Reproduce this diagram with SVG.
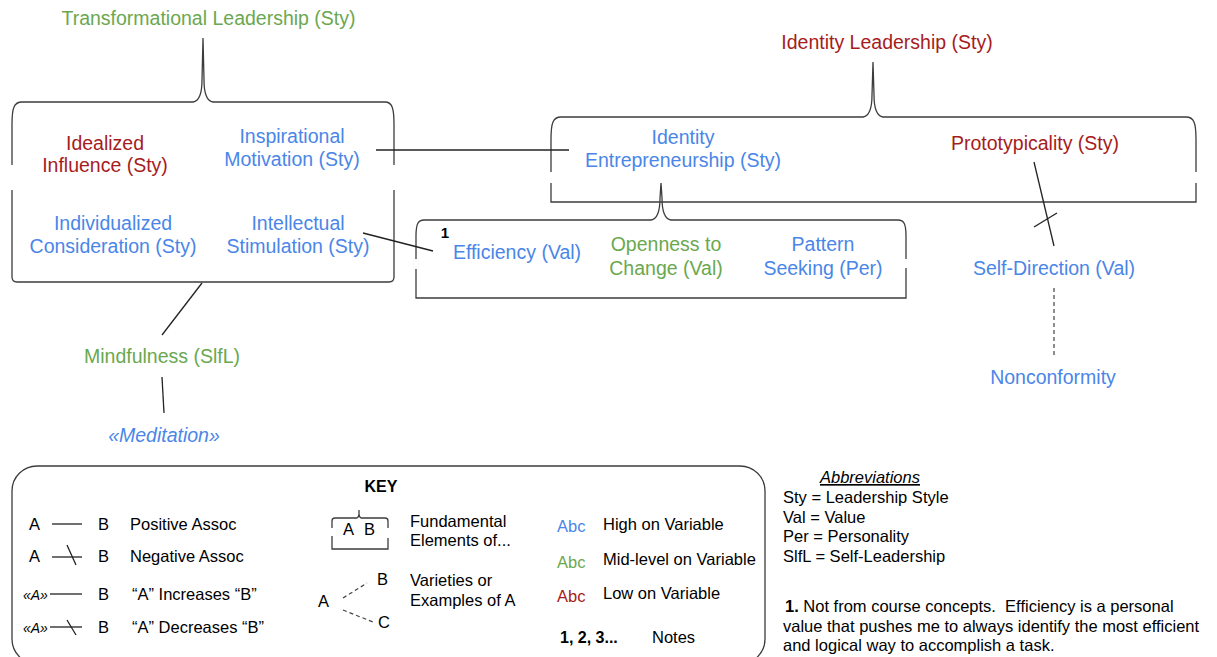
<svg xmlns="http://www.w3.org/2000/svg" width="1217" height="657" viewBox="0 0 1217 657">
<style>
text{font-family:"Liberation Sans",Arial,sans-serif}
.t{font-size:19.5px;text-anchor:middle}
.k{font-size:16.5px;fill:#000}
.b{fill:#4a86e8}.g{fill:#6aa84f}.r{fill:#a61c1c}
.br{fill:none;stroke:#3c3c3c;stroke-width:1.3}
.ln{fill:none;stroke:#222;stroke-width:1.3}
.ds{fill:none;stroke:#444;stroke-width:1.2;stroke-dasharray:4 3}
.q{font-size:14px;font-style:italic;fill:#000}
</style>
<rect width="1217" height="657" fill="#fff"/>

<g id="transformational">
<text class="t g" x="208.5" y="25">Transformational Leadership (Sty)</text>
<path class="br" d="M12,165 L12,124 C12,108 14,102 22,102 L193,102 C200,101 202,92 202,80 L203,38 L204,80 C204,92 206,101 213,102 L385,102 C392,102 394,108 394,124 L394,165"/>
<path class="br" d="M12,190 L12,277 Q12,282 17,282 L389,282 Q394,282 394,277 L394,190"/>
</g>
<g id="idealized"><text class="t r" x="105" y="150">Idealized</text><text class="t r" x="105" y="172">Influence (Sty)</text></g>
<g id="inspirational"><text class="t b" x="292" y="143">Inspirational</text><text class="t b" x="292" y="166">Motivation (Sty)</text></g>
<g id="individualized"><text class="t b" x="113" y="230">Individualized</text><text class="t b" x="113" y="253">Consideration (Sty)</text></g>
<g id="intellectual"><text class="t b" x="298" y="230">Intellectual</text><text class="t b" x="298" y="253">Stimulation (Sty)</text></g>

<g id="identity-leadership">
<text class="t r" x="887" y="49">Identity Leadership (Sty)</text>
<path class="br" d="M551,172 L551,139 C551,123 553,117 561,117 L863,117 C870,116 872,107 872,95 L873,62 L874,95 C874,107 876,116 883,117 L1186,117 C1194,117 1196,123 1196,139 L1196,172"/>
<path class="br" d="M551,183 L551,202 L1196,202 L1196,183"/>
</g>
<g id="identity-entrepreneurship"><text class="t b" x="683" y="144">Identity</text><text class="t b" x="683" y="167">Entrepreneurship (Sty)</text></g>
<g id="prototypicality"><text class="t r" x="1035" y="150">Prototypicality (Sty)</text></g>

<g id="efficiency-group">
<path class="br" d="M416,259 L416,236 C416,224 418,220 424,220 L651,220 C658,219 660,210 660,198 L661,183 L662,198 C662,210 664,219 671,220 L898,220 C904,220 906,224 906,236 L906,259"/>
<path class="br" d="M416,269 L416,298 L906,298 L906,268"/>
</g>
<g id="efficiency"><text x="445" y="238" style="font-size:15px;font-weight:bold;text-anchor:middle" fill="#000">1</text><text class="t b" x="517" y="259">Efficiency (Val)</text></g>
<g id="openness"><text class="t g" x="666" y="251">Openness to</text><text class="t g" x="666" y="275">Change (Val)</text></g>
<g id="pattern"><text class="t b" x="823" y="251">Pattern</text><text class="t b" x="823" y="275">Seeking (Per)</text></g>
<g id="self-direction"><text class="t b" x="1054" y="275">Self-Direction (Val)</text></g>
<g id="nonconformity"><text class="t b" x="1053" y="384">Nonconformity</text></g>
<g id="mindfulness"><text class="t g" x="162" y="363">Mindfulness (SlfL)</text></g>
<g id="meditation"><text class="t b" x="164" y="442" font-style="italic">«Meditation»</text></g>

<g id="connectors">
<line class="ln" x1="376" y1="150" x2="569" y2="150"/>
<line class="ln" x1="363" y1="233" x2="433" y2="251"/>
<line class="ln" x1="202" y1="283" x2="162" y2="335"/>
<line class="ln" x1="162" y1="377" x2="164" y2="413"/>
<line class="ln" x1="1034" y1="162" x2="1054" y2="246"/>
<line class="ln" x1="1034" y1="227" x2="1057" y2="213"/>
<line class="ds" x1="1054" y1="288" x2="1054" y2="357"/>
</g>

<g id="key">
<rect x="12" y="466" width="753" height="198" rx="25" ry="25" class="br"/>
<text x="381" y="492" style="font-size:16px;font-weight:bold;text-anchor:middle">KEY</text>
<text class="k" x="29" y="530">A</text><line class="ln" x1="52" y1="524" x2="82" y2="524"/><text class="k" x="98" y="530">B</text><text class="k" x="130" y="530">Positive Assoc</text>
<text class="k" x="29" y="562">A</text><line class="ln" x1="52" y1="557" x2="82" y2="557"/><line class="ln" x1="67" y1="545" x2="76" y2="565"/><text class="k" x="98" y="562">B</text><text class="k" x="130" y="562">Negative Assoc</text>
<text class="q" x="23" y="600">«A»</text><line class="ln" x1="50" y1="594" x2="82" y2="594"/><text class="k" x="98" y="600">B</text><text class="k" x="132" y="600">“A” Increases “B”</text>
<text class="q" x="23" y="633">«A»</text><line class="ln" x1="50" y1="627" x2="82" y2="627"/><line class="ln" x1="67" y1="620" x2="76" y2="635"/><text class="k" x="98" y="633">B</text><text class="k" x="132" y="633">“A” Decreases “B”</text>
<path class="br" d="M332,528 L332,521 Q332,518 335,518 L357,518 Q359,517 359,514 L359,510 L359,514 Q359,517 361,518 L385,518 Q388,518 388,521 L388,528"/>
<path class="br" d="M332,536 L332,549 L388,549 L388,538"/>
<text class="k" x="343" y="535">A</text><text class="k" x="364" y="535">B</text>
<text class="k" x="410" y="527">Fundamental</text><text class="k" x="410" y="546">Elements of...</text>
<text class="k" x="318" y="607">A</text><text class="k" x="377" y="585">B</text><text class="k" x="378" y="628">C</text>
<line class="ds" x1="343" y1="598" x2="367" y2="583"/><line class="ds" x1="343" y1="610" x2="373" y2="622"/>
<text class="k" x="410" y="586">Varieties or</text><text class="k" x="410" y="606">Examples of A</text>
<text class="k b" x="557" y="532">Abc</text><text class="k" x="603" y="530">High on Variable</text>
<text class="k g" x="557" y="568">Abc</text><text class="k" x="603" y="565">Mid-level on Variable</text>
<text class="k r" x="557" y="602">Abc</text><text class="k" x="603" y="599">Low on Variable</text>
<text x="560" y="643" style="font-size:16px;font-weight:bold">1, 2, 3...</text><text class="k" x="652" y="643">Notes</text>
</g>

<g id="abbreviations">
<text class="k" x="870" y="483" font-style="italic" text-anchor="middle" text-decoration="underline">Abbreviations</text>
<text class="k" x="783" y="503">Sty = Leadership Style</text>
<text class="k" x="783" y="523">Val = Value</text>
<text class="k" x="783" y="542">Per = Personality</text>
<text class="k" x="783" y="562">SlfL = Self-Leadership</text>
</g>
<g id="note">
<text class="k" x="785" y="612" xml:space="preserve"><tspan font-weight="bold">1.</tspan> Not from course concepts.  Efficiency is a personal</text>
<text class="k" x="783" y="632">value that pushes me to always identify the most efficient</text>
<text class="k" x="783" y="651">and logical way to accomplish a task.</text>
</g>
</svg>
